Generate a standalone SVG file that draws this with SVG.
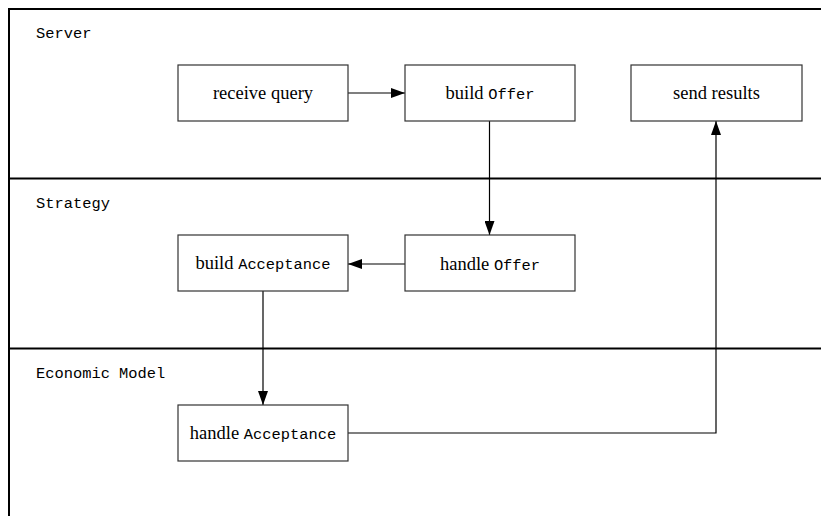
<svg xmlns="http://www.w3.org/2000/svg" width="821" height="516" viewBox="0 0 821 516">
  <style>
    .lane { fill: none; stroke: #000; stroke-width: 2; }
    .lane-label { font-family: "Liberation Mono", "DejaVu Sans Mono", monospace; font-size: 15.4px; fill: #000; }
    .box { fill: #fff; stroke: #333; stroke-width: 1.2; }
    .label { font-family: "Liberation Serif", "DejaVu Serif", serif; font-size: 18.5px; fill: #000; text-anchor: middle; }
    .code { font-family: "Liberation Mono", "DejaVu Sans Mono", monospace; font-size: 15.4px; }
    .edge { fill: none; stroke: #000; stroke-width: 1.2; }
  </style>
  <defs>
    <marker id="arrow" viewBox="0 0 14 10" refX="14" refY="5" markerWidth="14" markerHeight="10" markerUnits="userSpaceOnUse" orient="auto">
      <path d="M0,0 L14,5 L0,10 Z" fill="#000"/>
    </marker>
  </defs>

  <rect width="821" height="516" fill="#fff"/>

  <!-- swimlanes -->
  <g id="lanes">
    <path class="lane" d="M9,530 L9,9 L830,9"/>
    <line class="lane" x1="9" y1="178.5" x2="830" y2="178.5"/>
    <line class="lane" x1="9" y1="348.5" x2="830" y2="348.5"/>
    <text class="lane-label" x="36" y="38">Server</text>
    <text class="lane-label" x="36" y="208">Strategy</text>
    <text class="lane-label" x="36" y="378">Economic Model</text>
  </g>

  <!-- connectors -->
  <g id="connectors">
    <line class="edge" x1="348" y1="93" x2="405" y2="93" marker-end="url(#arrow)"/>
    <line class="edge" x1="489.5" y1="121" x2="489.5" y2="235" marker-end="url(#arrow)"/>
    <line class="edge" x1="405" y1="264" x2="348" y2="264" marker-end="url(#arrow)"/>
    <line class="edge" x1="263" y1="291" x2="263" y2="405" marker-end="url(#arrow)"/>
    <polyline class="edge" points="348,433 716,433 716,121" marker-end="url(#arrow)"/>
  </g>

  <g id="receive-query">
    <rect class="box" x="178" y="65" width="170" height="56"/>
    <text class="label" x="263" y="99">receive query</text>
  </g>
  <g id="build-offer">
    <rect class="box" x="405" y="65" width="170" height="56"/>
    <text class="label" x="490" y="99">build <tspan class="code">Offer</tspan></text>
  </g>
  <g id="send-results">
    <rect class="box" x="631" y="65" width="171" height="56"/>
    <text class="label" x="716.5" y="99">send results</text>
  </g>
  <g id="build-acceptance">
    <rect class="box" x="178" y="235" width="170" height="56"/>
    <text class="label" x="263" y="269">build <tspan class="code">Acceptance</tspan></text>
  </g>
  <g id="handle-offer">
    <rect class="box" x="405" y="235" width="170" height="56"/>
    <text class="label" x="490" y="270">handle <tspan class="code">Offer</tspan></text>
  </g>
  <g id="handle-acceptance">
    <rect class="box" x="178" y="405" width="170" height="56"/>
    <text class="label" x="263" y="439">handle <tspan class="code">Acceptance</tspan></text>
  </g>
</svg>
